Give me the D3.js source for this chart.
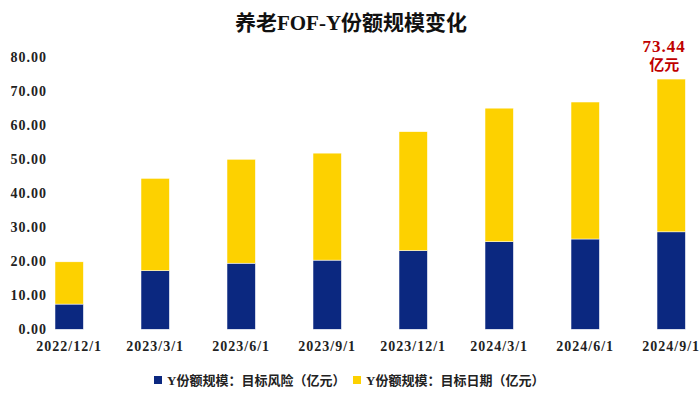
<!DOCTYPE html>
<html>
<head>
<meta charset="utf-8">
<script src="https://cdn.jsdelivr.net/npm/d3@7"></script>
<style>
  body { margin: 0; background: #fff; }
  svg { display: block; font-family: "Liberation Serif", "Noto Sans CJK SC", serif; font-weight: bold; }
</style>
</head>
<body>
<svg id="chart" width="700" height="401"></svg>
<script>
  // values (亿元)
  const dates = ['2022/12/1', '2023/3/1', '2023/6/1', '2023/9/1', '2023/12/1', '2024/3/1', '2024/6/1', '2024/9/1'];
  const riskTarget = [7.4, 17.2, 19.4, 20.3, 23.1, 25.7, 26.5, 28.6];
  const dateTarget = [12.4, 27.1, 30.5, 31.4, 34.9, 39.2, 40.2, 44.84];
  const seriesNames = ['Y份额规模：目标风险（亿元）', 'Y份额规模：目标日期（亿元）'];
  const yTicks = [0, 10, 20, 30, 40, 50, 60, 70, 80];
  const title = '养老FOF-Y份额规模变化';
  const lastNote = ['73.44', '亿元'];

  const colors = ['#0b2880', '#fdd100'];
  const svg = d3.select('#chart');

  const x = d3.scaleBand().domain(dates).range([55, 685.4]).paddingInner(0.67).paddingOuter(0);
  const y = d3.scaleLinear().domain([0, 80]).range([329.3, 56.7]);

  const rows = dates.map((d, i) => ({ date: d, risk: riskTarget[i], target: dateTarget[i] }));
  const stacked = d3.stack().keys(['risk', 'target'])(rows);

  svg.append('text')
    .attr('x', 351).attr('y', 30)
    .attr('text-anchor', 'middle')
    .attr('font-size', 21)
    .attr('fill', '#111')
    .text(title);

  // y axis labels only, no line
  svg.append('g').selectAll('text').data(yTicks).join('text')
    .attr('x', 47).attr('y', d => y(d))
    .attr('dy', '0.35em')
    .attr('text-anchor', 'end')
    .attr('font-size', 14)
    .attr('letter-spacing', 1)
    .attr('fill', '#222')
    .text(d3.format('.2f'));

  svg.append('g').selectAll('g').data(stacked).join('g')
    .attr('fill', (d, i) => colors[i])
    .selectAll('rect').data(d => d).join('rect')
      .attr('x', d => x(d.data.date))
      .attr('width', x.bandwidth())
      .attr('y', d => y(d[1]))
      .attr('height', d => y(d[0]) - y(d[1]))
      .attr('stroke', '#fff')
      .attr('stroke-width', 0.5);

  svg.append('g').selectAll('text').data(dates).join('text')
    .attr('x', d => x(d) + x.bandwidth() / 2)
    .attr('y', 346.5)
    .attr('dy', '0.35em')
    .attr('text-anchor', 'middle')
    .attr('font-size', 14)
    .attr('letter-spacing', 1)
    .attr('fill', '#222')
    .text(d => d);

  // note above last bar
  const lastDate = dates[dates.length - 1];
  const lastTop = riskTarget[dates.length - 1] + dateTarget[dates.length - 1];
  svg.append('g').selectAll('text').data(lastNote).join('text')
    .attr('x', x(lastDate) + x.bandwidth() / 2 - 7)
    .attr('y', (d, i) => y(lastTop) - 33 + i * 19)
    .attr('dy', '0.35em')
    .attr('text-anchor', 'middle')
    .attr('font-size', (d, i) => i ? 15 : 17)
    .attr('letter-spacing', (d, i) => i ? 0 : 1)
    .attr('fill', '#c00000')
    .text(d => d);

  // legend
  const legendX = [154, 353];
  const lg = svg.append('g').selectAll('g').data(seriesNames).join('g')
    .attr('transform', (d, i) => `translate(${legendX[i]},380)`);
  lg.append('rect').attr('x', 0).attr('y', -4).attr('width', 8).attr('height', 8)
    .attr('fill', (d, i) => colors[i]);
  lg.append('text').attr('x', 13).attr('dy', '0.35em')
    .attr('font-size', 13)
    .attr('fill', '#222')
    .text(d => d);
</script>
</body>
</html>
